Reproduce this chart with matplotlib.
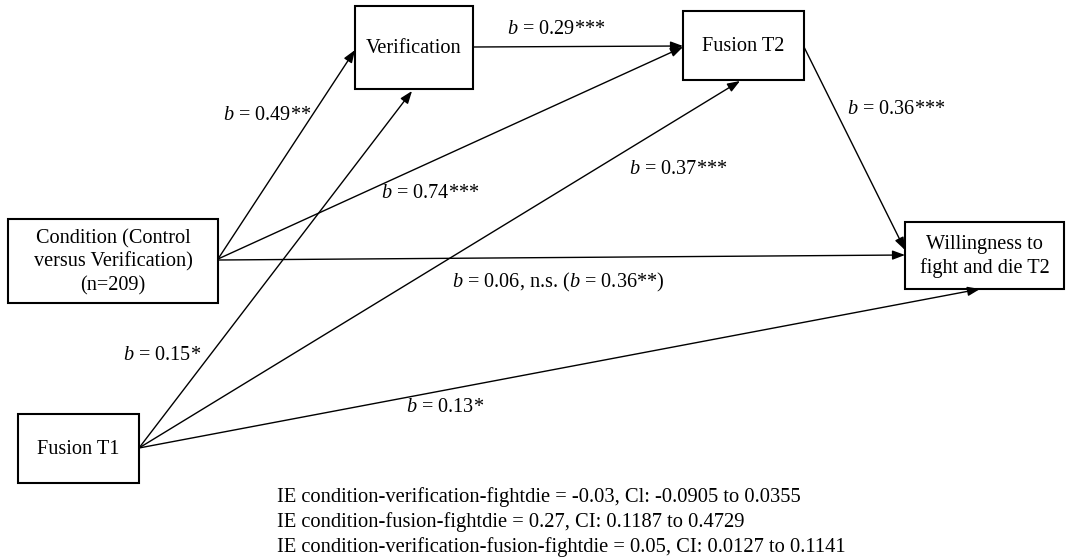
import matplotlib.pyplot as plt
from matplotlib.patches import Rectangle

plt.rcParams['font.family'] = ['Liberation Serif', 'DejaVu Serif']
plt.rcParams['mathtext.fontset'] = 'custom'
plt.rcParams['mathtext.rm'] = 'Liberation Serif'
plt.rcParams['mathtext.it'] = 'Liberation Serif:italic'

# node labels
nodes = ['Verification', 'Fusion T2', 'Condition (Control\nversus Verification)\n(n=209)',
         'Willingness to\nfight and die T2', 'Fusion T1']
# path coefficients
paths = ['$b$ = 0.49**', '$b$ = 0.29***', '$b$ = 0.74***', '$b$ = 0.37***',
         '$b$ = 0.36***', '$b$ = 0.06, n.s. ($b$ = 0.36**)', '$b$ = 0.15*', '$b$ = 0.13*']
# indirect effects
ie_lines = ['IE condition-verification-fightdie = -0.03, Cl: -0.0905 to 0.0355',
            'IE condition-fusion-fightdie = 0.27, CI: 0.1187 to 0.4729',
            'IE condition-verification-fusion-fightdie = 0.05, CI: 0.0127 to 0.1141']

# layout (pixel coordinates)
boxes = [(355, 6, 118, 83), (683, 11, 121, 69), (8, 219, 210, 84),
         (905, 222, 159, 67), (18, 414, 121, 69)]
arrows = [((218, 259), (355, 50)), ((473, 47), (683, 46)), ((218, 259), (683, 47)),
          ((218, 260), (905, 255)), ((139, 448), (412, 91)), ((139, 448), (740, 81)),
          ((139, 448), (980, 289)), ((804, 47), (905, 250))]
label_pos = [(267, 115), (556, 29), (430, 193), (678, 170), (896, 110),
             (558, 282), (162, 356), (445, 407)]

fig = plt.figure(figsize=(10.67, 5.6), dpi=100)
ax = fig.add_axes([0, 0, 1, 1])
ax.set_xlim(0, 1067)
ax.set_ylim(560, 0)
ax.axis('off')

for (x, y, w, h), name in zip(boxes, nodes):
    ax.add_patch(Rectangle((x, y), w, h, fill=False, ec='black', lw=1.5))
    ax.text(x + w / 2, y + h / 2 + 1, name, ha='center', va='center', fontsize=14.6,
            linespacing=1.3)

for start, end in arrows:
    ax.annotate('', xy=end, xytext=start,
                arrowprops=dict(arrowstyle='-|>,head_length=0.75,head_width=0.28',
                                color='black', lw=1.0, shrinkA=0, shrinkB=0))

for (x, y), txt in zip(label_pos, paths):
    ax.text(x, y, txt, ha='center', va='center', fontsize=14.6)

for i, line in enumerate(ie_lines):
    ax.text(277, 497 + 25 * i, line, ha='left', va='center', fontsize=14.8)

fig.savefig('out.png', dpi=100)
